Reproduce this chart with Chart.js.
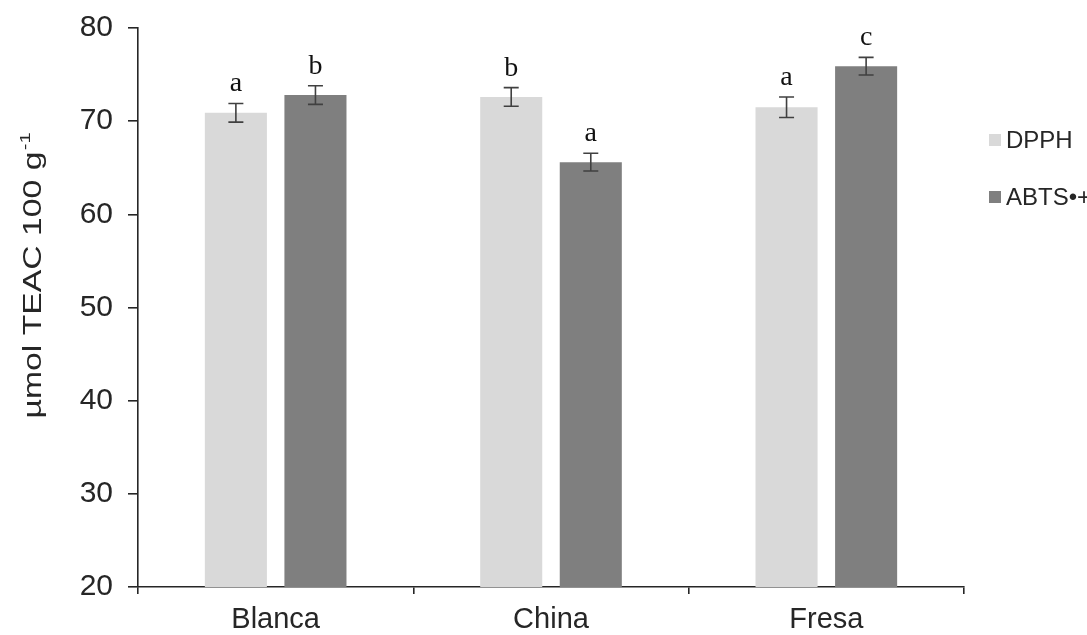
<!DOCTYPE html>
<html>
<head>
<meta charset="utf-8">
<script src="https://cdn.jsdelivr.net/npm/chart.js@4"></script>
<style>
    html, body { margin: 0; padding: 0; background: #ffffff; }
    #wrap { width: 1087px; height: 635px; position: relative; }
</style>
</head>
<body>
<div id="wrap"><canvas id="teacChart" width="1087" height="635"></canvas></div>
<script>
const categories = ["Blanca", "China", "Fresa"];
const seriesNames = ["DPPH", "ABTS\u2022+"];
const dpphValues = [70.9, 72.6, 71.5];
const abtsValues = [72.8, 65.6, 75.9];
const dpphErrors = [1.0, 1.0, 1.1];
const abtsErrors = [1.0, 0.95, 0.95];
const dpphLetters = ["a", "b", "a"];
const abtsLetters = ["b", "a", "c"];
const yTicks = [20, 30, 40, 50, 60, 70, 80];

const seriesColors = ["#d9d9d9", "#7f7f7f"];
const inkColor = "#262626";
const sansFont = "'Liberation Sans', Arial, sans-serif";

// error bars + significance letters, drawn from the scales
const errorBarPlugin = {
    id: "errorBars",
    afterDatasetsDraw(chart) {
        const ctx = chart.ctx;
        const yScale = chart.scales.y;
        const errors = [dpphErrors, abtsErrors];
        const letters = [dpphLetters, abtsLetters];
        ctx.save();
        chart.data.datasets.forEach((dataset, di) => {
            chart.getDatasetMeta(di).data.forEach((bar, i) => {
                const value = dataset.data[i];
                const top = yScale.getPixelForValue(value + errors[di][i]);
                const bottom = yScale.getPixelForValue(value - errors[di][i]);
                ctx.strokeStyle = "#404040";
                ctx.lineWidth = 1.6;
                ctx.beginPath();
                ctx.moveTo(bar.x, top);
                ctx.lineTo(bar.x, bottom);
                ctx.moveTo(bar.x - 7.5, top);
                ctx.lineTo(bar.x + 7.5, top);
                ctx.moveTo(bar.x - 7.5, bottom);
                ctx.lineTo(bar.x + 7.5, bottom);
                ctx.stroke();

                ctx.fillStyle = "#111111";
                ctx.font = "28px 'Liberation Serif', 'Times New Roman', serif";
                ctx.textAlign = "center";
                ctx.textBaseline = "alphabetic";
                ctx.fillText(letters[di][i], bar.x, top - 12);
            });
        });
        ctx.restore();
    },
};

// legend at the right and the rotated y title with superscript
const sideTextPlugin = {
    id: "sideText",
    afterDraw(chart) {
        const ctx = chart.ctx;
        const area = chart.chartArea;
        ctx.save();

        ctx.font = "24px " + sansFont;
        ctx.textBaseline = "middle";
        ctx.textAlign = "left";
        seriesNames.forEach((name, i) => {
            const cy = area.top + 112 + i * 57;
            ctx.fillStyle = seriesColors[i];
            ctx.fillRect(area.right + 25, cy - 6, 12, 12);
            ctx.fillStyle = inkColor;
            ctx.fillText(name, area.right + 42, cy + 1);
        });

        const mainText = "\u00b5mol TEAC 100 g";
        const supText = "-1";
        ctx.translate(32, 276);
        ctx.rotate(-Math.PI / 2);
        ctx.scale(1.35, 1);
        ctx.font = "25px " + sansFont;
        const mainWidth = ctx.measureText(mainText).width;
        ctx.font = "15px " + sansFont;
        const supWidth = ctx.measureText(supText).width;
        const startX = -(mainWidth + supWidth) / 2;
        ctx.fillStyle = inkColor;
        ctx.textAlign = "left";
        ctx.textBaseline = "alphabetic";
        ctx.font = "25px " + sansFont;
        ctx.fillText(mainText, startX, 9);
        ctx.font = "15px " + sansFont;
        ctx.fillText(supText, startX + mainWidth + 1, -2);
        ctx.restore();
    },
};

new Chart(document.getElementById("teacChart"), {
    type: "bar",
    data: {
        labels: categories,
        datasets: [
            {
                label: seriesNames[0],
                data: dpphValues,
                backgroundColor: seriesColors[0],
                categoryPercentage: 0.578,
                barPercentage: 0.78,
            },
            {
                label: seriesNames[1],
                data: abtsValues,
                backgroundColor: seriesColors[1],
                categoryPercentage: 0.578,
                barPercentage: 0.78,
            },
        ],
    },
    options: {
        responsive: false,
        animation: false,
        devicePixelRatio: 1,
        layout: { padding: { top: 28, right: 123, left: 0, bottom: 0 } },
        plugins: {
            legend: { display: false },
            tooltip: { enabled: false },
        },
        scales: {
            x: {
                afterFit(scale) { scale.height = 48; },
                border: { color: inkColor, width: 1.6 },
                grid: { display: true, drawOnChartArea: false, drawTicks: true, tickLength: 7, color: inkColor, lineWidth: 1.6, offset: true },
                ticks: { color: inkColor, padding: 9, font: { family: sansFont, size: 29 } },
            },
            y: {
                min: yTicks[0],
                max: yTicks[yTicks.length - 1],
                afterFit(scale) {
                    scale.width = 138;
                    scale.paddingTop = 0;
                    scale.paddingBottom = 0;
                },
                afterBuildTicks(scale) { scale.ticks = yTicks.map((v) => ({ value: v })); },
                border: { color: inkColor, width: 1.6 },
                grid: { display: true, drawOnChartArea: false, drawTicks: true, tickLength: 10, color: inkColor, lineWidth: 1.6 },
                ticks: { color: inkColor, padding: 15, font: { family: sansFont, size: 30, lineHeight: 0.9 } },
            },
        },
    },
    plugins: [errorBarPlugin, sideTextPlugin],
});
</script>
</body>
</html>
